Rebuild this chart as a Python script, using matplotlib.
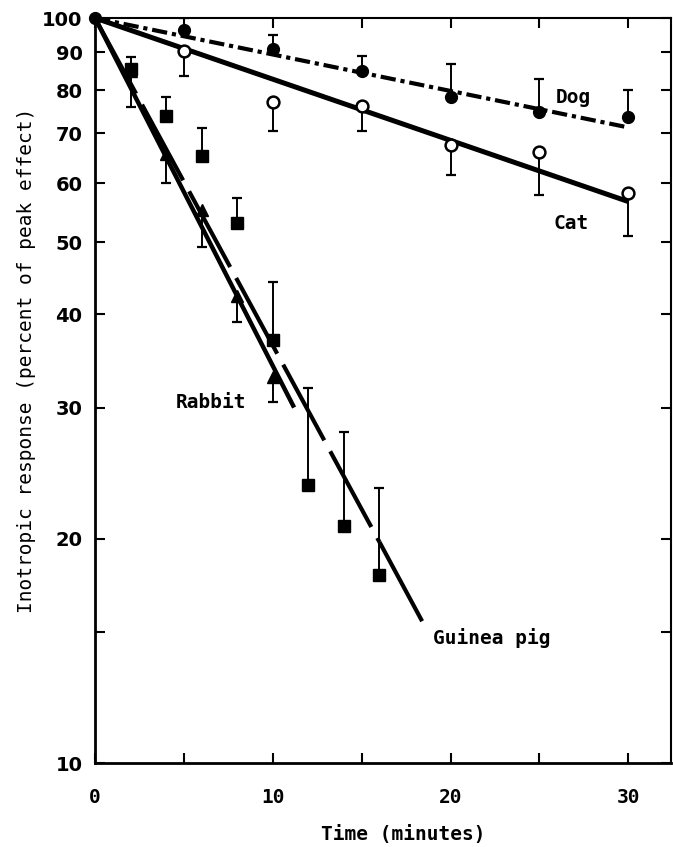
import matplotlib
matplotlib.use("Agg")
import matplotlib.pyplot as plt
from matplotlib.ticker import NullLocator

# mean response (% of peak) at each time, and the far end of its one-sided error bar
DOG_T = [5, 10, 15, 20, 25, 30]
DOG = [96.5, 90.8, 84.9, 78.3, 74.7, 73.6]
DOG_BAR = [100, 94.9, 88.9, 86.7, 82.8, 80.0]

CAT_T = [5, 10, 15, 20, 25, 30]
CAT = [90.3, 77.1, 76.1, 67.6, 66.0, 58.3]
CAT_BAR = [83.6, 70.6, 70.5, 61.6, 57.8, 51.0]

RABBIT_T = [2, 4, 6, 8, 10]
RABBIT = [85.0, 65.6, 55.3, 42.3, 33.0]
RABBIT_BAR = [75.9, 60.1, 49.2, 39.1, 30.5]

GPIG_T = [2, 4, 6, 8, 10, 12, 14, 16]
GPIG = [85.3, 73.8, 65.2, 53.0, 37.0, 23.6, 20.8, 17.9]
GPIG_BAR = [88.6, 78.3, 71.1, 57.4, 44.2, 31.9, 27.8, 23.4]

# fitted exponential decays (straight on the log axis)
DOG_FIT_T, DOG_FIT = [0, 30], [100, 71.3]
CAT_FIT_T, CAT_FIT = [0, 30], [100, 56.7]
RABBIT_FIT_T, RABBIT_FIT = [0, 11.2], [100, 30.0]
GPIG_FIT_T, GPIG_FIT = [0, 16], [100, 19.8]
GPIG_TAIL_T, GPIG_TAIL = [16, 18.4], [19.8, 15.5]

Y_TICKS = [10, 15, 20, 30, 40, 50, 60, 70, 80, 90, 100]
Y_LABELS = ['10', '', '20', '30', '40', '50', '60', '70', '80', '90', '100']
X_TICKS = [0, 5, 10, 15, 20, 25, 30]
X_LABELS = ['0', '', '10', '', '20', '', '30']

plt.rcParams['lines.scale_dashes'] = False
MONO = 'DejaVu Sans Mono'

fig = plt.figure(figsize=(6.73, 8.47), dpi=100)
ax = fig.add_axes([95 / 673, 1 - 763 / 847, 576 / 673, 745 / 847])


def bars(ax, t, y, end):
    ax.vlines(t, y, end, color='black', lw=1.4, zorder=2)
    ax.plot(t, end, ls='none', marker='_', ms=7, mew=1.6, color='black', zorder=2)


# fitted lines
ax.plot(DOG_FIT_T, DOG_FIT, color='black', lw=3.0, dashes=(11, 3.5, 3, 3.5), zorder=3)
ax.plot(CAT_FIT_T, CAT_FIT, color='black', lw=3.6, solid_capstyle='butt', zorder=3)
ax.plot(RABBIT_FIT_T, RABBIT_FIT, color='black', lw=3.2, solid_capstyle='butt', zorder=3)
ax.plot(GPIG_FIT_T, GPIG_FIT, color='black', lw=3.0, dashes=(62, 9), zorder=3)
ax.plot(GPIG_TAIL_T, GPIG_TAIL, color='black', lw=3.0, solid_capstyle='butt', zorder=3)

# data points with one-sided error bars
bars(ax, DOG_T, DOG, DOG_BAR)
ax.plot(DOG_T, DOG, ls='none', marker='o', ms=8.5, color='black', zorder=4)
ax.plot([0], [100], ls='none', marker='o', ms=8.5, color='black', zorder=4, clip_on=False)

bars(ax, CAT_T, CAT, CAT_BAR)
ax.plot(CAT_T, CAT, ls='none', marker='o', ms=8.5, mfc='white', mec='black', mew=1.8, zorder=4)

bars(ax, RABBIT_T, RABBIT, RABBIT_BAR)
ax.plot(RABBIT_T, RABBIT, ls='none', marker='^', ms=9, color='black', zorder=4)

bars(ax, GPIG_T, GPIG, GPIG_BAR)
ax.plot(GPIG_T, GPIG, ls='none', marker='s', ms=8, color='black', zorder=4)

# series names
ax.text(26.9, 78.3, 'Dog', family=MONO, fontsize=14, fontweight='bold', ha='center', va='center')
ax.text(26.8, 53.0, 'Cat', family=MONO, fontsize=14, fontweight='bold', ha='center', va='center')
ax.text(6.55, 30.5, 'Rabbit', family=MONO, fontsize=14, fontweight='bold', ha='center', va='center')
ax.text(22.3, 14.7, 'Guinea pig', family=MONO, fontsize=14, fontweight='bold', ha='center', va='center')

# axes
ax.set_yscale('log')
ax.set_ylim(10, 100)
ax.set_xlim(0, 32.4)
ax.set_yticks(Y_TICKS)
ax.set_yticklabels(Y_LABELS)
ax.yaxis.set_minor_locator(NullLocator())
ax.set_xticks(X_TICKS)
ax.set_xticklabels(X_LABELS)
ax.tick_params(direction='in', top=True, right=True, length=7, width=1.5)
ax.tick_params(axis='y', pad=9)
ax.tick_params(axis='x', pad=18)
for lab in ax.get_yticklabels():
    lab.set_family('DejaVu Sans')
    lab.set_fontweight('bold')
    lab.set_fontsize(14)
for lab in ax.get_xticklabels():
    lab.set_family(MONO)
    lab.set_fontweight('bold')
    lab.set_fontsize(14)
for side in ['left', 'bottom']:
    ax.spines[side].set_linewidth(2.0)
for side in ['top', 'right']:
    ax.spines[side].set_linewidth(1.5)

fig.text(403 / 673, 1 - 834 / 847, 'Time (minutes)', family=MONO, fontsize=14,
         fontweight='bold', ha='center', va='center')
fig.text(27 / 673, 1 - 360 / 847, 'Inotropic response (percent of peak effect)',
         family=MONO, fontsize=14, rotation=90, ha='center', va='center')

fig.savefig('out.png', dpi=100)
